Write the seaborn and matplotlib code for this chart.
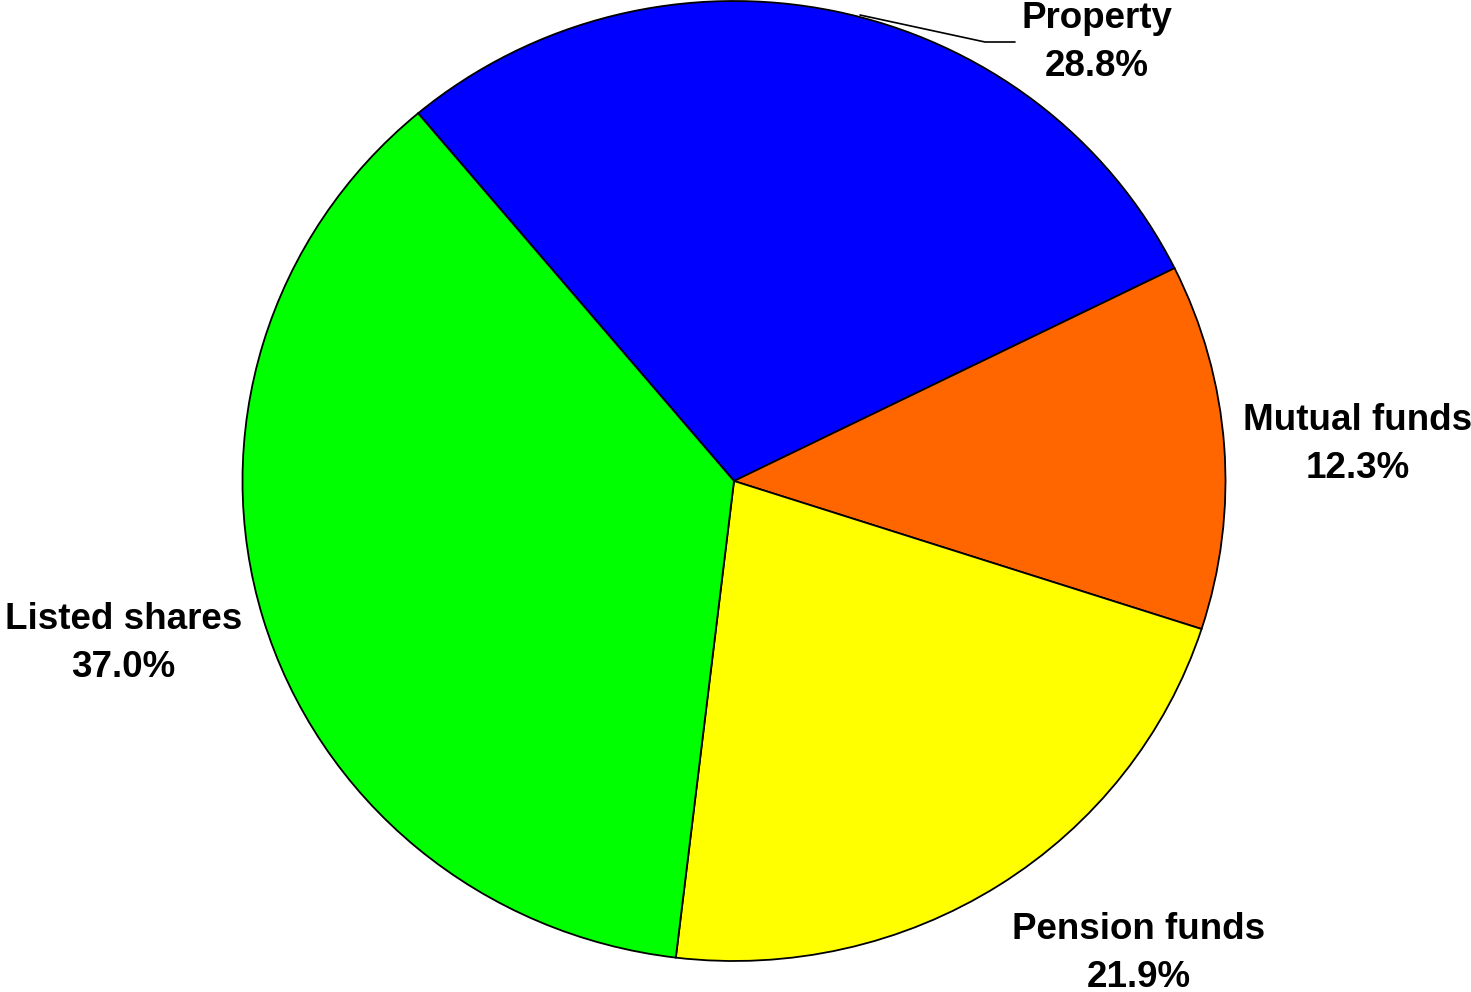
import matplotlib
matplotlib.use("Agg")
import matplotlib.pyplot as plt
import seaborn as sns

sns.set_theme(style="white")
plt.rcParams['font.family'] = ['Liberation Sans', 'DejaVu Sans']

categories = ["Property", "Mutual funds", "Pension funds", "Listed shares"]
shares = [28.8, 12.3, 21.9, 37.0]
colors = ["#0000FF", "#FF6600", "#FFFF00", "#00FF00"]

# label placement (data coords of axes, pie radius = 1)
label_pos = [(0.739, 0.913), (1.269, 0.077), (0.823, -0.985), (-1.242, -0.338)]

W, H = 1471, 992
fig = plt.figure(figsize=(W / 100, H / 100), dpi=100)
cx, cy, rx, ry = 734, 481, 491.5, 480
ax = fig.add_axes([(cx - rx) / W, (H - cy - ry) / H, 2 * rx / W, 2 * ry / H])

wedges, _ = ax.pie(shares, colors=colors, startangle=130, counterclock=False,
                   radius=1, center=(0, 0), frame=False,
                   wedgeprops=dict(edgecolor="black", linewidth=1.3))
ax.set_aspect("auto")
ax.set_xlim(-1, 1)
ax.set_ylim(-1, 1)
ax.axis("off")

for name, val, (x, y) in zip(categories, shares, label_pos):
    ax.text(x, y, f"{name}\n{val:.1f}%", ha="center", va="center",
            fontsize=26.5, fontweight="bold", linespacing=1.48, color="black",
            clip_on=False)

# leader line for Property
ax.plot([(860 - cx) / rx, (985 - cx) / rx, (1015 - cx) / rx],
        [(cy - 15) / ry, (cy - 42) / ry, (cy - 42) / ry],
        color="black", linewidth=1.2, clip_on=False)

fig.savefig("out.png", dpi=100, facecolor="white")
